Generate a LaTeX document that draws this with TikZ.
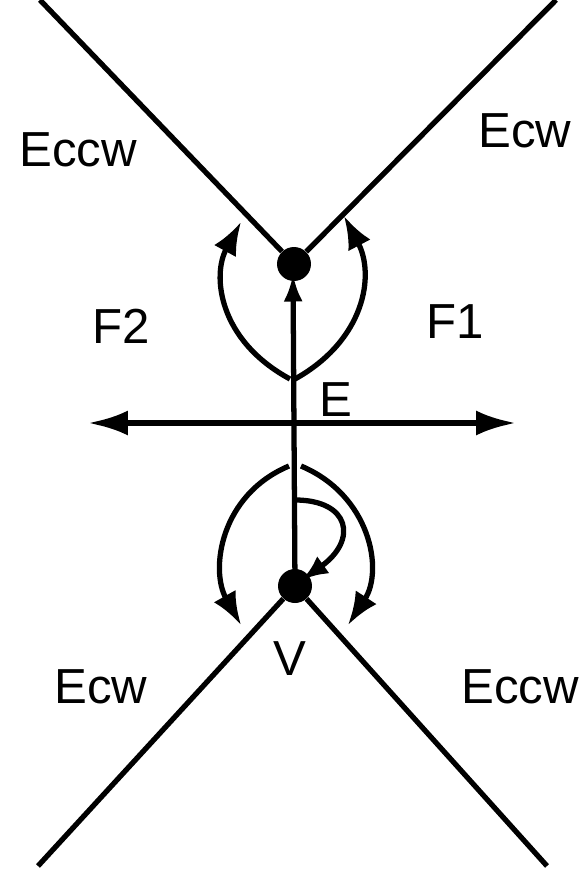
\documentclass[tikz,border=0pt]{standalone}
\usepackage{fontspec}
\setmainfont{Liberation Sans}
\usetikzlibrary{arrows.meta,positioning,calc}

\begin{document}
\begin{tikzpicture}[x=0.02cm,y=-0.02cm,
  edge/.style={line width=3pt},
  dot/.style={circle, fill, inner sep=0pt, minimum size=0.68cm},
  lbl/.style={font=\fontsize{28}{30}\selectfont, inner sep=0pt},
  arr/.style={line width=3pt,-{Latex[length=0.66cm,width=0.5cm]}},
  uparr/.style={line width=3pt,-{Latex[length=0.55cm,width=0.38cm]}},
  hook/.style={line width=3pt,-{Latex[length=0.52cm,width=0.42cm]}},
  darr/.style={line width=3.4pt,{Latex[length=0.8cm,width=0.5cm]}-{Latex[length=0.8cm,width=0.5cm]}}
]
\useasboundingbox (0,0) rectangle (587,869);

% vertices
\node[dot] (vtop) at (294,264) {};
\node[dot] (vbot) at (295,586) {};

% free ends of the edges
\coordinate (tl) at (40,0);
\coordinate (tr) at (556,0);
\coordinate (bl) at (38,866);
\coordinate (br) at (547,866);
\coordinate (hl) at (88,423);
\coordinate (hr) at (516,423);

\draw[edge] (tl) -- (vtop);
\draw[edge] (tr) -- (vtop);
\draw[edge] (bl) -- (vbot);
\draw[edge] (br) -- (vbot);

% edge E
\draw[uparr] (vbot.center) -- (293,274);
\draw[darr] (hl) -- (hr);

% face arcs
\draw[arr] (290,379) .. controls (218,340) and (212,275) .. (241,222);
\draw[arr] (295,379) .. controls (365,340) and (375,275) .. (344,216);
\draw[arr] (289,466) .. controls (220,495) and (210,570) .. (241,625);
\draw[arr] (301,466) .. controls (370,495) and (384,570) .. (348,625);
\draw[hook] (295,500) .. controls (350,500) and (358,540) .. (302,580);

% labels
\node[lbl] (eccwtop) at (78,150) {Eccw};
\node[lbl] (ecwtop) at (525,131) {Ecw};
\node[lbl] (ftwo) at (121,326) {F2};
\node[lbl] (fone) at (455,322) {F1};
\node[lbl] (elbl) at (336,400) {E};
\node[lbl] (vlbl) at (290,659) {V};
\node[lbl] (ecwbot) at (101,687) {Ecw};
\node[lbl] (eccwbot) at (520,687) {Eccw};
\end{tikzpicture}
\end{document}
